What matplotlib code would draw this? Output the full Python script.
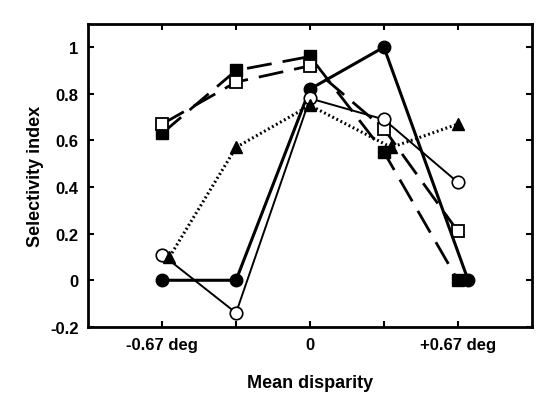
import matplotlib
matplotlib.use('Agg')
import matplotlib.pyplot as plt

plt.rcParams['font.family'] = ['Liberation Sans', 'DejaVu Sans']
plt.rcParams['font.weight'] = 'bold'

# disparity positions (-0.67 deg .. +0.67 deg)
x = [-2, -1, 0, 1, 2]
tick_pos = [-2, -1, 0, 1, 2]
tick_labels = ['-0.67 deg', '', '0', '', '+0.67 deg']

# selectivity index per cell
filled_sq = [0.63, 0.90, 0.96, 0.55, 0.0]
open_sq = [0.67, 0.85, 0.92, 0.65, 0.21]
filled_circ = [0.0, 0.0, 0.82, 1.00, 0.0]
open_circ = [0.11, -0.14, 0.78, 0.69, 0.42]
triangles = [0.10, 0.57, 0.75, 0.57, 0.67]

# small horizontal offsets used in the original to keep symbols apart
x_circ = [-2, -1, 0, 1, 2.14]
x_tri = [-1.9, -1, 0, 1.1, 2]

fig = plt.figure(figsize=(5.58, 4.14), dpi=100)
ax = fig.add_axes([0.158, 0.208, 0.795, 0.732])

ax.plot(x, filled_sq, color='black', lw=2, dashes=(9, 4),
        marker='s', ms=9, mfc='black', mec='black')
ax.plot(x, open_sq, color='black', lw=2, dashes=(9, 4),
        marker='s', ms=9, mfc='white', mec='black', mew=1.3)
ax.plot(x_circ, filled_circ, color='black', lw=2.2, ls='-',
        marker='o', ms=9, mfc='black', mec='black')
ax.plot(x, open_circ, color='black', lw=1.4, ls='-',
        marker='o', ms=9, mfc='white', mec='black', mew=1.2)
ax.plot(x_tri, triangles, color='black', lw=2.2, dashes=(0.6, 0.9),
        marker='^', ms=9, mfc='black', mec='black')

ax.set_xlim(-3, 3)
ax.set_ylim(-0.2, 1.1)
ax.set_xticks(tick_pos)
ax.set_xticklabels(tick_labels)
ax.set_yticks([-0.2, 0, 0.2, 0.4, 0.6, 0.8, 1])
ax.set_yticklabels(['-0.2', '0', '0.2', '0.4', '0.6', '0.8', '1'])
ax.tick_params(direction='in', length=4, width=1.5, top=True, right=True,
               labelsize=12, pad=7)
for s in ax.spines.values():
    s.set_linewidth(2)

ax.set_xlabel('Mean disparity', fontsize=13, fontweight='bold', labelpad=16)
ax.set_ylabel('Selectivity index', fontsize=13, fontweight='bold', labelpad=4)

fig.savefig('out.png', dpi=100)
